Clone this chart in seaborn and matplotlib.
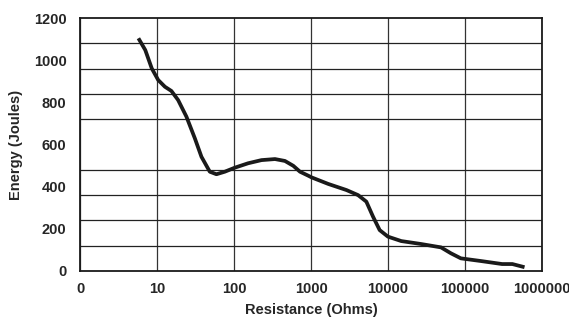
import numpy as np
import pandas as pd
import seaborn as sns
import matplotlib.pyplot as plt
from matplotlib.ticker import MultipleLocator, FixedLocator, NullFormatter

# === Dados ===
resistance = [5.7, 7.0, 8.5, 10.3, 12.6, 15.3, 18.7, 24, 30.9, 37.6, 48.3, 58.9, 75.7,
              102, 152, 227, 340, 458, 588, 719, 922, 1018, 1675, 2890, 4090, 5240,
              6400, 7810, 10000, 14900, 27000, 49000, 65900, 88800, 164000, 305000,
              415000, 597000]
energy = [1104, 1048, 961, 906, 874, 854, 811, 732, 629, 542, 471, 459, 471,
          490, 511, 526, 531, 522, 499, 471, 452, 444, 413, 384, 360, 329,
          258, 194, 163, 142, 128, 112, 84, 60, 47, 33, 33, 18]

x_ticks = [1, 10, 100, 1000, 10000, 100000, 1000000]
x_labels = ["0", "10", "100", "1000", "10000", "100000", "1000000"]
y_ticks = [0, 200, 400, 600, 800, 1000, 1200]

df = pd.DataFrame({"Resistance": resistance, "Energy": energy})

sns.set_style("white")
plt.rcParams['font.family'] = ['Liberation Sans', 'DejaVu Sans']
plt.rcParams['font.weight'] = 'bold'

fig = plt.figure(figsize=(5.69, 3.22), dpi=100)
ax = fig.add_axes([0.1411, 0.1584, 0.811, 0.7856])

sns.lineplot(data=df, x="Resistance", y="Energy", ax=ax, color="#1a1a1a",
             linewidth=2.7, estimator=None, sort=False)
ax.lines[0].set_solid_capstyle('butt')

ax.set_xscale('log')
ax.set_xlim(1, 1e6)
ax.set_ylim(0, 1200)

ax.xaxis.set_major_locator(FixedLocator(x_ticks))
ax.set_xticklabels(x_labels)
ax.xaxis.set_minor_locator(FixedLocator([]))
ax.yaxis.set_major_locator(FixedLocator(y_ticks))
ax.set_yticklabels([str(v) for v in y_ticks])
ax.yaxis.set_minor_locator(MultipleLocator(120))
ax.yaxis.set_minor_formatter(NullFormatter())

ax.grid(False)
ax.xaxis.grid(True, which='major', color='#333333', linewidth=0.9)
ax.yaxis.grid(True, which='minor', color='#222222', linewidth=0.9)
ax.set_axisbelow(True)

ax.tick_params(axis='both', which='both', length=0, labelsize=10.5)
ax.tick_params(axis='x', pad=8)
ax.tick_params(axis='y', pad=10)

for s in ax.spines.values():
    s.set_visible(True)
    s.set_color('#1a1a1a')
    s.set_linewidth(1.3)

ax.set_xlabel("Resistance (Ohms)", fontsize=10.5, fontweight='bold')
ax.set_ylabel("Energy (Joules)", fontsize=10.5, fontweight='bold')
ax.xaxis.set_label_coords(0.5, -0.126)
ax.yaxis.set_label_coords(-0.124, 0.5)

fig.savefig("out.png", dpi=100)
